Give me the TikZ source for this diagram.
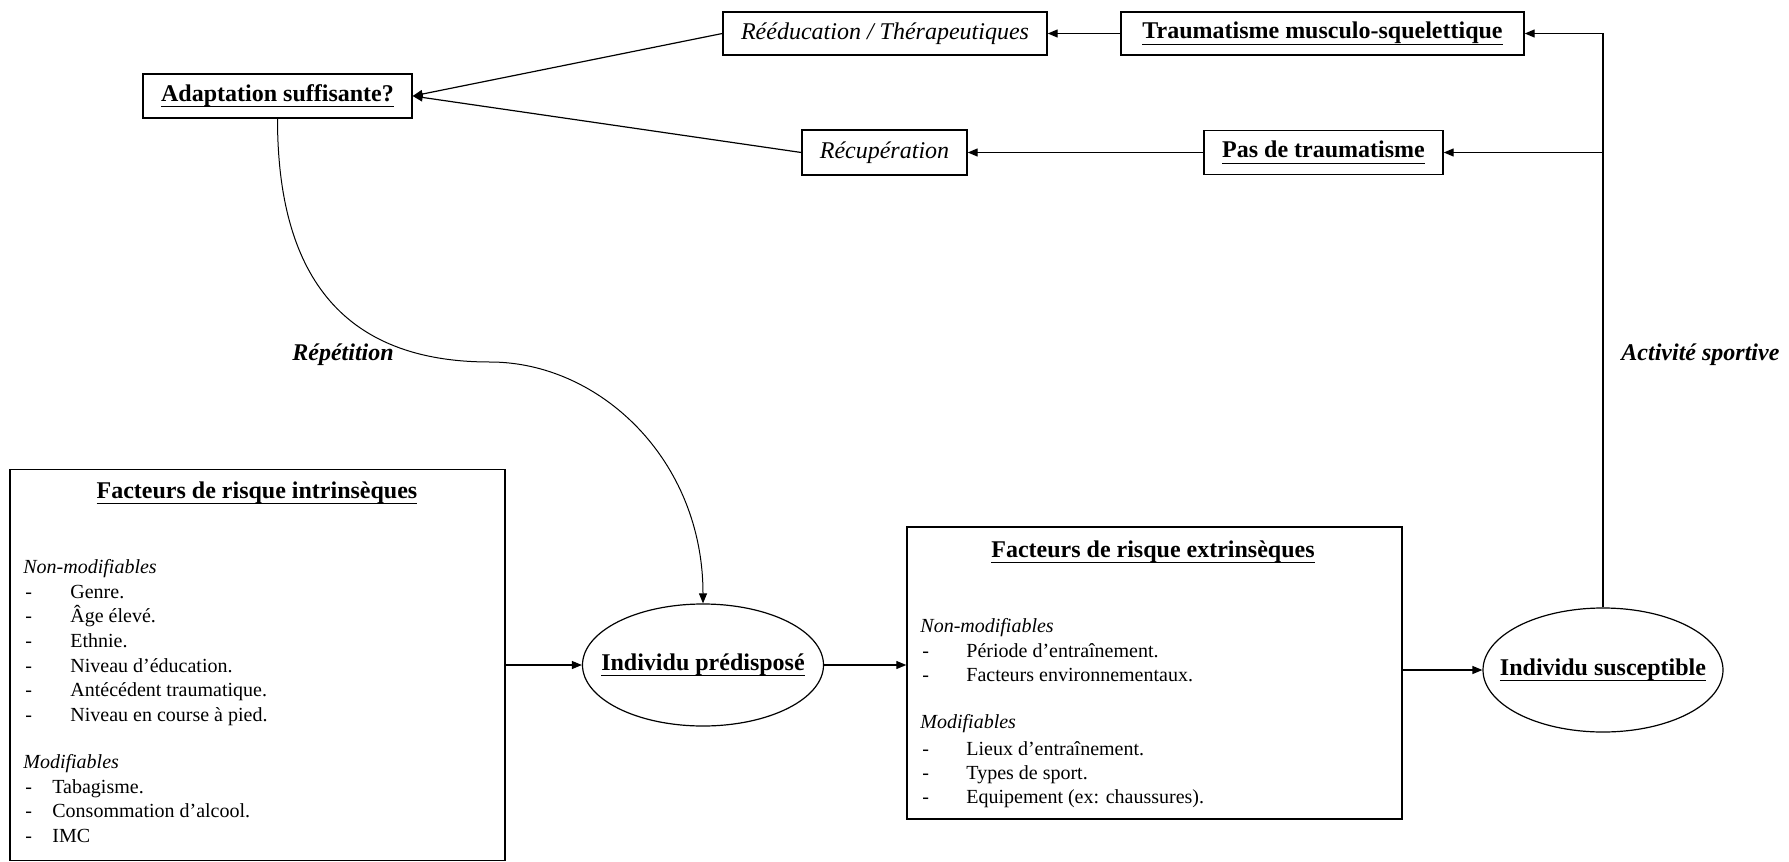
\documentclass[tikz,border=0pt]{standalone}
\usepackage{fontspec}
\setmainfont{Liberation Serif}
\newcommand\myul[1]{\setbox0\hbox{#1}\rlap{\vrule width\wd0 height -2.4pt depth 3pt}\box0}
\usetikzlibrary{shapes.geometric,arrows.meta}
\begin{document}
\begin{tikzpicture}[x=0.5pt,y=-0.5pt,
  box/.style={draw,line width=0.7pt,inner sep=0pt,align=center,font=\fontsize{12}{14}\selectfont},
  bigbox/.style={draw,line width=0.7pt,inner sep=0pt},
  ell/.style={draw,ellipse,line width=0.6pt,inner sep=0pt},
  elltext/.style={inner sep=0pt,font=\fontsize{12}{14}\selectfont\bfseries},
  arr/.style={line width=0.6pt,-{Triangle[length=5pt,width=4pt]}},
  body/.style={anchor=base west,inner sep=0pt,font=\fontsize{10}{12}\selectfont},
  head/.style={anchor=base west,inner sep=0pt,font=\fontsize{10}{12}\selectfont\itshape},
  title/.style={anchor=base,inner sep=0pt,font=\fontsize{12}{14}\selectfont\bfseries},
  lab/.style={inner sep=0pt,font=\fontsize{12}{14}\selectfont\bfseries\itshape}]
\useasboundingbox (0,0) rectangle (1789,862);

% top boxes
\node[box,minimum width=134.5pt,minimum height=22pt,font=\fontsize{12}{14}\selectfont\bfseries] (adapt) at (277.5,96) {\myul{Adaptation suffisante?}};
\node[box,minimum width=162pt,minimum height=21.5pt,font=\fontsize{12}{14}\selectfont\itshape] (reed) at (885,33.5) {Rééducation / Thérapeutiques};
\node[box,minimum width=201.5pt,minimum height=21.5pt,font=\fontsize{12}{14}\selectfont\bfseries] (trauma) at (1322.5,33.5) {\myul{Traumatisme musculo-squelettique}};
\node[box,minimum width=82.5pt,minimum height=22.5pt,font=\fontsize{12}{14}\selectfont\itshape] (recup) at (884.5,152.5) {Récupération};
\node[box,minimum width=119.5pt,minimum height=22pt,font=\fontsize{12}{14}\selectfont\bfseries] (pas) at (1323.5,152.5) {\myul{Pas de traumatisme}};

% intrinsic box
\node[bigbox,minimum width=247.5pt,minimum height=195.5pt] (intr) at (257.5,665) {};
\node[title] (intrt) at (257,498) {\myul{Facteurs de risque intrinsèques}};
\node[head] (intrh1) at (23,573) {Non-modifiables};
\foreach \y/\t [count=\k] in {598/Genre., 622.7/Âge élevé., 647.3/Ethnie., 672/Niveau d’éducation., 696.7/Antécédent traumatique., 721.3/Niveau en course à pied.}{
  \node[body] (ind\k) at (25,\y) {-};
  \node[body] (int\k) at (70,\y) {\t};
}
\node[head] (intrh2) at (23,768) {Modifiables};
\foreach \y/\t [count=\k] in {793/Tabagisme., 817.5/Consommation d’alcool., 842/IMC}{
  \node[body] (imd\k) at (25,\y) {-};
  \node[body] (imt\k) at (52,\y) {\t};
}

% extrinsic box
\node[bigbox,minimum width=247.5pt,minimum height=146pt] (extr) at (1154.5,673) {};
\node[title] (extrt) at (1153,557) {\myul{Facteurs de risque extrinsèques}};
\node[head] (extrh1) at (920,632) {Non-modifiables};
\foreach \y/\t [count=\k] in {657/Période d’entraînement., 681/Facteurs environnementaux.}{
  \node[body] (end\k) at (922,\y) {-};
  \node[body] (ent\k) at (966,\y) {\t};
}
\node[head] (extrh2) at (920,728) {Modifiables};
\foreach \y/\t [count=\k] in {755/Lieux d’entraînement., 779/Types de sport., 803/Equipement (ex: chaussures).}{
  \node[body] (emd\k) at (922,\y) {-};
  \node[body] (emt\k) at (966,\y) {\t};
}

% ellipses
\node[ell,minimum width=120.5pt,minimum height=61pt] (pred) at (703,665) {};
\node[elltext] (predt) at (pred.center) {\myul{Individu prédisposé}};
\node[ell,minimum width=120pt,minimum height=62pt] (susc) at (1603,670) {};
\node[elltext] (susct) at (susc.center) {\myul{Individu susceptible}};

% labels
\node[lab,anchor=base] (rep) at (343,360) {Répétition};
\node[lab,anchor=base west] (act) at (1621,360) {Activité sportive};

% connectors
\draw[arr] (intr.east) -- (pred.west);
\draw[arr] (pred.east) -- (pred.east -| extr.west);
\draw[arr] (extr.east |- susc.west) -- (susc.west);
\draw[arr] (susc.north) |- (trauma.east);
\draw[arr] (susc.north |- pas.east) -- (pas.east);
\draw[arr] (trauma.west) -- (reed.east);
\draw[arr] (pas.west) -- (recup.east);
\draw[arr] (reed.west) -- (adapt.east);
\draw[arr] (recup.west) -- (adapt.east);
\coordinate (rp) at (490,362);
\draw[arr,line width=0.5pt] (adapt.south) .. controls (277.5,260) and (330,362) .. (rp) .. controls (600,362) and (703,460) .. (pred.north);
\end{tikzpicture}
\end{document}
